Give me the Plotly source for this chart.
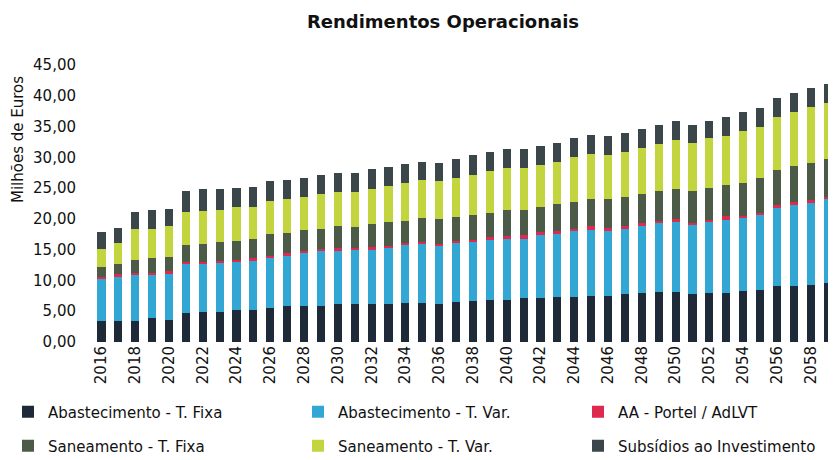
import plotly.graph_objects as go

years = [str(y) for y in range(2016, 2060)]

abast_fixa = [3.4, 3.4, 3.4, 3.9, 3.6, 4.7, 4.9, 4.9, 5.2, 5.2, 5.6, 5.9, 5.8, 5.9, 6.1, 6.1, 6.2, 6.2, 6.4, 6.4, 6.1, 6.5,
              6.7, 6.8, 6.9, 7.1, 7.2, 7.3, 7.3, 7.4, 7.4, 7.8, 7.9, 8.1, 8.1, 7.8, 8.0, 8.0, 8.3, 8.5, 9.1, 9.1, 9.2, 9.6]
abast_var = [6.9, 7.3, 7.5, 7.0, 7.6, 7.9, 7.8, 8.0, 7.9, 8.1, 8.1, 8.1, 8.7, 8.9, 8.8, 8.9, 8.9, 9.1, 9.4, 9.6, 9.5, 9.6,
             9.6, 9.9, 9.9, 9.7, 10.2, 10.3, 10.7, 10.8, 10.7, 10.6, 11.1, 11.3, 11.4, 11.3, 11.5, 11.8, 11.8, 12.1, 12.6, 13.1, 13.4, 13.6]
aa_portel = [0.3, 0.3, 0.3, 0.3, 0.3, 0.4, 0.3, 0.3, 0.3, 0.3, 0.3, 0.4, 0.3, 0.3, 0.3, 0.3, 0.3, 0.3, 0.3, 0.3, 0.3, 0.3,
             0.3, 0.3, 0.5, 0.6, 0.5, 0.4, 0.4, 0.6, 0.4, 0.4, 0.3, 0.3, 0.5, 0.3, 0.4, 0.6, 0.4, 0.4, 0.6, 0.5, 0.4, 0.4]
san_fixa = [1.6, 1.6, 2.2, 2.4, 2.3, 2.7, 3.0, 3.0, 3.0, 3.1, 3.5, 3.3, 3.4, 3.3, 3.7, 3.4, 3.7, 3.9, 3.6, 3.9, 4.1, 3.9,
            4.0, 4.0, 4.2, 4.1, 4.1, 4.4, 4.4, 4.4, 4.7, 4.8, 4.8, 4.9, 4.9, 5.2, 5.2, 5.1, 5.4, 5.6, 5.6, 5.9, 6.0, 6.1]
san_var = [2.9, 3.5, 4.9, 4.8, 5.1, 5.4, 5.3, 5.3, 5.5, 5.3, 5.4, 5.5, 5.3, 5.6, 5.5, 5.7, 5.8, 5.8, 6.1, 6.1, 6.2, 6.4,
           6.5, 6.8, 6.7, 6.7, 6.7, 6.9, 7.2, 7.4, 7.2, 7.2, 7.4, 7.5, 7.9, 7.7, 8.0, 8.0, 8.4, 8.4, 8.7, 8.8, 9.1, 9.1]
subsidios = [2.8, 2.5, 2.8, 3.0, 2.7, 3.5, 3.5, 3.3, 3.2, 3.2, 3.2, 3.1, 3.2, 3.1, 3.1, 3.1, 3.2, 3.2, 3.1, 3.0, 2.9, 3.1,
             3.2, 3.1, 3.1, 3.1, 3.2, 3.1, 3.1, 3.1, 3.1, 3.2, 3.1, 3.1, 3.1, 2.9, 2.8, 3.1, 3.0, 3.0, 3.1, 3.1, 3.1, 3.1]

tick_years = [str(y) for y in range(2016, 2060, 2)]

names = ["Abastecimento - T. Fixa", "Abastecimento - T. Var.", "AA - Portel / AdLVT",
         "Saneamento - T. Fixa", "Saneamento - T. Var.", "Subsídios ao Investimento"]
values = [abast_fixa, abast_var, aa_portel, san_fixa, san_var, subsidios]
colors = ["#1f2a38", "#33a7d4", "#de2a4e", "#4b5b48", "#c3d53e", "#3b464b"]
legend_ids = ["legend", "legend2", "legend3", "legend4", "legend5", "legend6"]

FONT = "DejaVu Sans, Verdana, sans-serif"
OFF = 8  # page body margin
W, H = 836 - OFF, 460 - OFF

fig = go.Figure()
for name, vals, color, lg in zip(names, values, colors, legend_ids):
    fig.add_trace(go.Bar(x=years, y=vals, name=name, marker=dict(color=color, line=dict(width=0)),
                         legend=lg, showlegend=True))

# legend placement (reference pixels of the item start, row centre)
leg_pos = [(8, 412), (298, 412), (578, 412), (8, 446), (298, 446), (578, 446)]
legends = {}
for lg, (px, py) in zip(legend_ids, leg_pos):
    legends[lg] = dict(xref="container", yref="container", x=(px - OFF) / W, y=1 - (py - OFF) / H,
                       xanchor="left", yanchor="middle", orientation="h",
                       font=dict(size=15, family=FONT, color="#111111"),
                       bgcolor="rgba(0,0,0,0)", borderwidth=0, itemwidth=30, visible=True)

plot_l, plot_t, plot_b = 93 - OFF, 65 - OFF, 342 - OFF
plot_h = plot_b - plot_t

fig.update_layout(
    width=W, height=H,
    showlegend=True,
    barmode="stack", bargap=0.52,
    plot_bgcolor="white", paper_bgcolor="white",
    margin=dict(l=plot_l, r=0, t=plot_t, b=H - plot_b, autoexpand=False),
    font=dict(family=FONT, size=15, color="#111111"),
    separators=",.",
    title=dict(text="<b>Rendimentos Operacionais</b>", x=(443 - OFF) / W, xanchor="center",
               xref="container", yref="container", y=1 - (22 - OFF) / H, yanchor="middle",
               font=dict(size=18, family=FONT, color="#111111")),
    xaxis=dict(type="category", tickmode="array", tickvals=tick_years, ticktext=tick_years,
               tickangle=-90, showgrid=False, showline=False, ticks="", zeroline=False,
               automargin=False, tickfont=dict(size=15, family=FONT, color="#111111"),
               range=[-0.5, 43.5]),
    yaxis=dict(range=[0, 45], dtick=5, tickformat=".2f", showgrid=False, showline=False,
               zeroline=False, ticks="", automargin=False, ticklabelstandoff=16,
               tickfont=dict(size=15, family=FONT, color="#111111")),
    annotations=[dict(text="Milhões de Euros", textangle=-90, xref="paper", yref="paper",
                      x=(18 - 93) / (836 - 93), y=(342 - 140) / plot_h, xanchor="center",
                      yanchor="middle", showarrow=False,
                      font=dict(size=15, family=FONT, color="#111111"))],
    **legends,
)

fig.write_html("out.html")
